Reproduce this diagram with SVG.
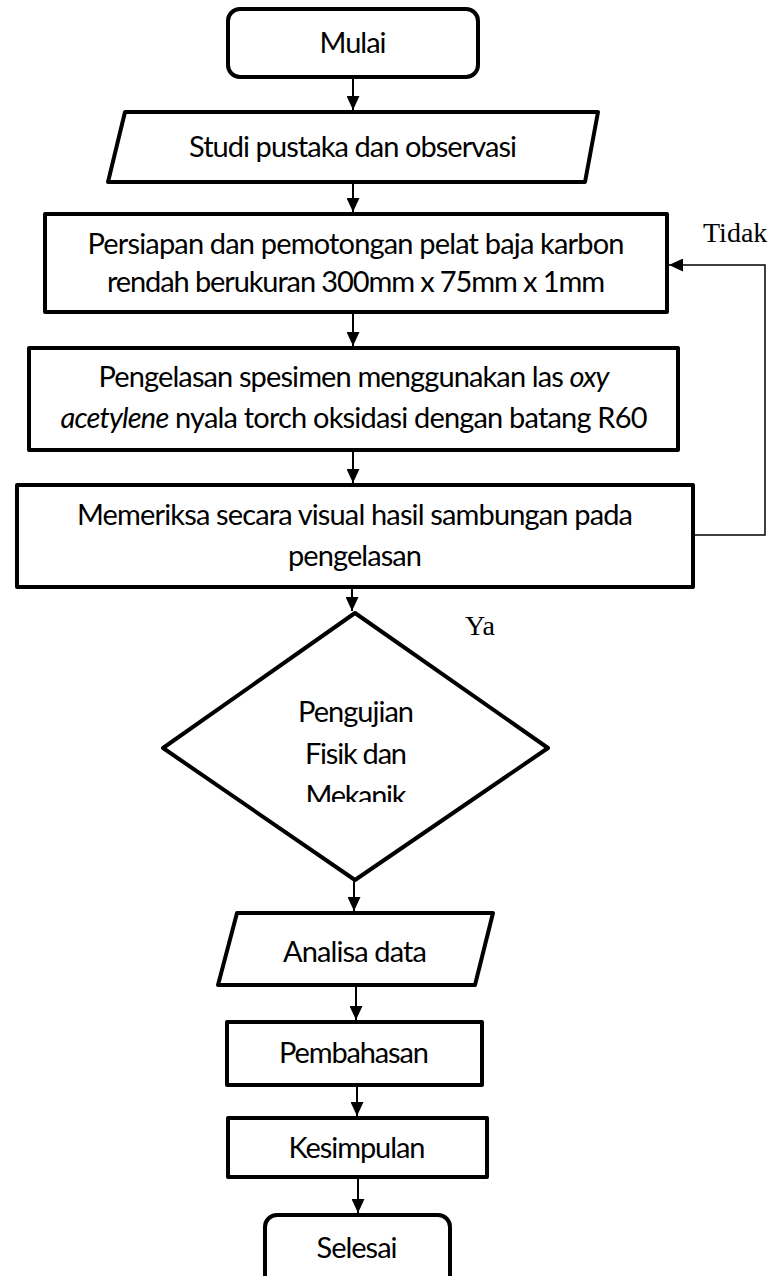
<svg xmlns="http://www.w3.org/2000/svg" width="779" height="1276" viewBox="0 0 779 1276">
<style>
.shape{fill:#fff;stroke:#000;stroke-width:4;stroke-linejoin:round}
.t{font-family:Lato,"Liberation Sans",sans-serif;font-size:29px;fill:#000;text-anchor:middle}
.lbl{font-family:"Liberation Serif",serif;font-size:28px;fill:#000}
.c{fill:none;stroke:#000;stroke-width:2}
.loop{fill:none;stroke:#000;stroke-width:1.5}
</style>
<defs>
<marker id="ah" markerUnits="userSpaceOnUse" markerWidth="14" markerHeight="13" refX="14" refY="6.5" orient="auto">
<path d="M0,0 L14,6.5 L0,13 z" fill="#000"/>
</marker>
<clipPath id="dclip"><rect x="0" y="0" width="779" height="802"/></clipPath>
</defs>
<rect width="779" height="1276" fill="#fff"/>
<g id="connectors">
<path class="c" d="M353,79 V110" marker-end="url(#ah)"/>
<path class="c" d="M353,182 V212" marker-end="url(#ah)"/>
<path class="c" d="M353,312 V346" marker-end="url(#ah)"/>
<path class="c" d="M353,450 V483" marker-end="url(#ah)"/>
<path class="c" d="M352,587 V611" marker-end="url(#ah)"/>
<path class="c" d="M354,880 V911" marker-end="url(#ah)"/>
<path class="c" d="M356,985 V1020" marker-end="url(#ah)"/>
<path class="c" d="M357,1080 V1116" marker-end="url(#ah)"/>
<path class="c" d="M358,1177 V1213" marker-end="url(#ah)"/>
<path class="loop" d="M693,535 H765 V265 H669" marker-end="url(#ah)"/>
<text class="lbl" x="703" y="242">Tidak</text>
<text class="lbl" x="465" y="635">Ya</text>
</g>
<g id="mulai">
<rect class="shape" x="228" y="9" width="250" height="68" rx="12"/>
<text class="t" x="353" y="53" textLength="67">Mulai</text>
</g>
<g id="studi">
<polygon class="shape" points="125,112 598,112 585,182 108,182"/>
<text class="t" x="353" y="157" textLength="328">Studi pustaka dan observasi</text>
</g>
<g id="persiapan">
<rect class="shape" x="45" y="214" width="622" height="98"/>
<text class="t" x="356" y="254" textLength="537">Persiapan dan pemotongan pelat baja karbon</text>
<text class="t" x="356" y="292" textLength="498">rendah berukuran 300mm x 75mm x 1mm</text>
</g>
<g id="pengelasan">
<rect class="shape" x="29" y="348" width="649" height="102"/>
<text class="t" x="354" y="387" textLength="511">Pengelasan spesimen menggunakan las <tspan font-style="italic">oxy</tspan></text>
<text class="t" x="354" y="428" textLength="587"><tspan font-style="italic">acetylene</tspan> nyala torch oksidasi dengan batang R60</text>
</g>
<g id="memeriksa">
<rect class="shape" x="17" y="485" width="676" height="102"/>
<text class="t" x="355" y="525" textLength="556">Memeriksa secara visual hasil sambungan pada</text>
<text class="t" x="355" y="566" textLength="134">pengelasan</text>
</g>
<g id="pengujian">
<polygon class="shape" points="355,613 548,748 355,880 163,748"/>
<g clip-path="url(#dclip)">
<text class="t" x="356" y="722" textLength="116">Pengujian</text>
<text class="t" x="356" y="764" textLength="102">Fisik dan</text>
<text class="t" x="356" y="806" textLength="101">Mekanik</text>
</g>
</g>
<g id="analisa">
<polygon class="shape" points="237,913 493,913 475,985 218,985"/>
<text class="t" x="355" y="962" textLength="144">Analisa data</text>
</g>
<g id="pembahasan">
<rect class="shape" x="227" y="1022" width="255" height="63"/>
<text class="t" x="354" y="1063" textLength="150">Pembahasan</text>
</g>
<g id="kesimpulan">
<rect class="shape" x="228" y="1118" width="259" height="59"/>
<text class="t" x="357" y="1158" textLength="137">Kesimpulan</text>
</g>
<g id="selesai">
<rect class="shape" x="265" y="1215" width="185" height="80" rx="12"/>
<text class="t" x="357" y="1258" textLength="81">Selesai</text>
</g>
</svg>
